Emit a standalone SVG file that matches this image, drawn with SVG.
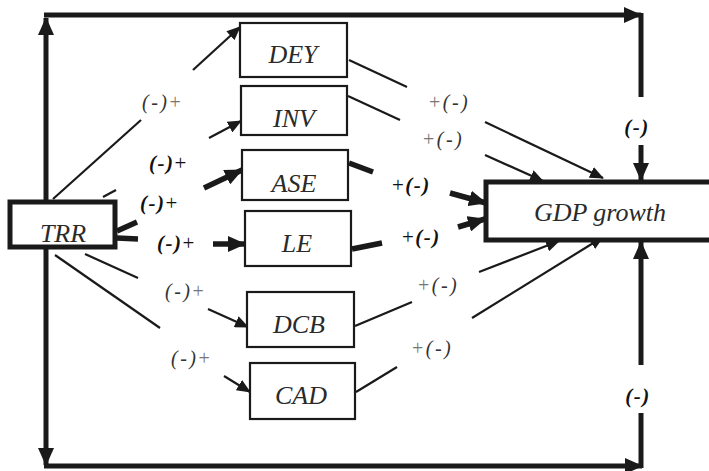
<svg xmlns="http://www.w3.org/2000/svg" width="709" height="471" viewBox="0 0 709 471">
<style>
.box{fill:#fff;stroke:#1a1a1a;stroke-width:2.2}
.bbox{fill:#fff;stroke:#1a1a1a;stroke-width:5}
.nt{font-family:"Liberation Serif","Times New Roman",serif;font-style:italic;font-size:26px;fill:#2a2a2a;text-anchor:middle}
.ln{fill:none;stroke:#1a1a1a;stroke-width:2.2}
.tk{fill:none;stroke:#1a1a1a;stroke-width:5.5}
.fr{fill:none;stroke:#1a1a1a;stroke-width:5}
.lb{font-family:"Liberation Serif","Times New Roman",serif;font-size:20px;fill:#333;letter-spacing:2.5px}
.lbb{font-family:"Liberation Serif","Times New Roman",serif;font-size:21px;fill:#111;font-weight:bold;letter-spacing:1.5px}
.it{font-style:italic}
.pl{fill:#777;font-weight:normal;font-style:normal}
.pb{font-weight:normal;font-style:normal}
</style>
<defs>
<marker id="a" markerUnits="userSpaceOnUse" markerWidth="14" markerHeight="12" refX="13" refY="6" orient="auto"><path d="M0,0 L14,6 L0,12 z" fill="#1a1a1a"/></marker>
<marker id="ab" markerUnits="userSpaceOnUse" markerWidth="18" markerHeight="16" refX="17" refY="8" orient="auto"><path d="M0,0 L18,8 L0,16 z" fill="#1a1a1a"/></marker>
<marker id="af" markerUnits="userSpaceOnUse" markerWidth="18" markerHeight="16" refX="17" refY="8" orient="auto"><path d="M0,0 L18,8 L0,16 z" fill="#1a1a1a"/></marker>
</defs>
<g id="connectors">
<path class="fr" d="M46,200 L46,18" marker-end="url(#af)"/>
<path class="fr" d="M44,15 L641,15" marker-end="url(#af)"/>
<path class="fr" d="M641,13 L641,97"/>
<path class="fr" d="M641,145 L641,180" marker-end="url(#af)"/>
<path class="fr" d="M46,249 L46,465" marker-end="url(#af)"/>
<path class="fr" d="M44,466 L642,466" marker-end="url(#af)"/>
<path class="fr" d="M641,468 L641,413"/>
<path class="fr" d="M641,365 L641,242" marker-end="url(#af)"/>
<path class="ln" d="M53,199 L141,120"/>
<path class="ln" d="M193,70 L240,27" marker-end="url(#a)"/>
<path class="ln" d="M103,197 L116,190"/>
<path class="ln" d="M209,138 L241,121" marker-end="url(#a)"/>
<path class="tk" d="M117,231 L137,222"/>
<path class="tk" d="M204,188 L242,170" marker-end="url(#ab)"/>
<path class="tk" d="M117,238 L138,239"/>
<path class="tk" d="M213,244 L245,244" marker-end="url(#ab)"/>
<path class="ln" d="M85,254 L138,278"/>
<path class="ln" d="M208,309 L248,327" marker-end="url(#a)"/>
<path class="ln" stroke-width="3" d="M55,255 L160,328"/>
<path class="ln" stroke-width="3" d="M224,376 L250,392" marker-end="url(#a)"/>
<path class="ln" d="M349,60 L407,87"/>
<path class="ln" d="M485,122 L603,178" marker-end="url(#a)"/>
<path class="ln" d="M348,96 L400,120"/>
<path class="ln" d="M485,155 L543,181" marker-end="url(#a)"/>
<path class="tk" d="M349,163 L373,172"/>
<path class="tk" d="M450,193 L486,203" marker-end="url(#ab)"/>
<path class="tk" d="M352,249 L382,243"/>
<path class="tk" d="M458,227 L485,219" marker-end="url(#ab)"/>
<path class="ln" d="M355,326 L412,302"/>
<path class="ln" d="M479,272 L559,241" marker-end="url(#a)"/>
<path class="ln" d="M356,392 L397,367"/>
<path class="ln" d="M472,318 L603,237" marker-end="url(#a)"/>
</g>
<g id="labels">
<text class="lb" x="142" y="109"><tspan class="it">(-)</tspan><tspan class="pl">+</tspan></text>
<text class="lbb" x="149" y="170"><tspan class="it">(-)</tspan><tspan class="pb">+</tspan></text>
<text class="lbb" x="140" y="210"><tspan class="it">(-)</tspan><tspan class="pb">+</tspan></text>
<text class="lbb" x="157" y="250"><tspan class="it">(-)</tspan><tspan class="pb">+</tspan></text>
<text class="lb" x="165" y="298"><tspan class="it">(-)</tspan><tspan class="pl">+</tspan></text>
<text class="lb" x="171" y="365"><tspan class="it">(-)</tspan><tspan class="pl">+</tspan></text>
<text class="lb" x="429" y="109"><tspan class="pl">+</tspan><tspan class="it">(-)</tspan></text>
<text class="lb" x="423" y="146"><tspan class="pl">+</tspan><tspan class="it">(-)</tspan></text>
<text class="lbb" x="392" y="192"><tspan class="pb">+</tspan><tspan class="it">(-)</tspan></text>
<text class="lbb" x="402" y="244"><tspan class="pb">+</tspan><tspan class="it">(-)</tspan></text>
<text class="lb" x="418" y="292"><tspan class="pl">+</tspan><tspan class="it">(-)</tspan></text>
<text class="lb" x="412" y="355"><tspan class="pl">+</tspan><tspan class="it">(-)</tspan></text>
<text class="lbb it" x="637" y="134" text-anchor="middle">(-)</text>
<text class="lbb it" x="638" y="403" text-anchor="middle">(-)</text>
</g>
<g id="TRR"><rect class="bbox" x="10" y="202" width="105" height="45"/><text class="nt" x="63" y="242">TRR</text></g>
<g id="DEY"><rect class="box" x="240" y="23" width="107" height="54"/><text class="nt" x="293" y="63">DEY</text></g>
<g id="INV"><rect class="box" x="241" y="86" width="106" height="49"/><text class="nt" x="294" y="127">INV</text></g>
<g id="ASE"><rect class="box" x="242" y="150" width="106" height="50"/><text class="nt" x="294" y="192">ASE</text></g>
<g id="LE"><rect class="box" x="245" y="211" width="106" height="55"/><text class="nt" x="297" y="252">LE</text></g>
<g id="DCB"><rect class="box" x="247" y="292" width="107" height="55"/><text class="nt" x="299" y="333">DCB</text></g>
<g id="CAD"><rect class="box" x="250" y="363" width="105" height="56"/><text class="nt" x="301" y="404">CAD</text></g>
<g id="GDP"><rect class="bbox" x="486" y="182" width="240" height="58"/><text class="nt" x="600" y="221">GDP growth</text></g>
</svg>
